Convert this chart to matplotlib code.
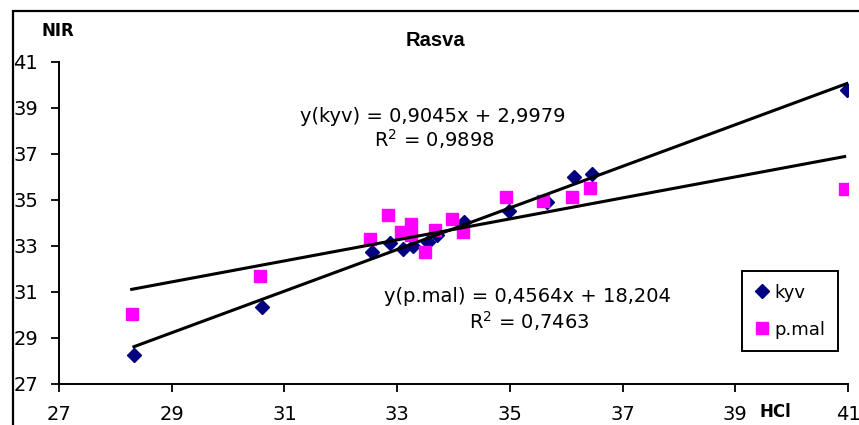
import numpy as np
import matplotlib
matplotlib.use("Agg")
import matplotlib.pyplot as plt
from matplotlib.patches import Rectangle

# values
hcl_kyv = [28.33, 30.61, 32.55, 32.88, 33.11, 33.29, 33.55, 33.71, 34.18, 34.98, 35.66, 36.14, 36.46, 40.98]
nir_kyv = [28.27, 30.33, 32.75, 33.14, 32.86, 33.01, 33.19, 33.48, 34.06, 34.54, 34.93, 36.01, 36.11, 39.78]

hcl_pmal = [28.29, 30.56, 32.51, 32.84, 33.07, 33.25, 33.25, 33.50, 33.68, 33.98, 34.17, 34.94, 35.59, 36.10, 36.43, 40.94]
nir_pmal = [30.03, 31.70, 33.30, 34.35, 33.62, 33.96, 33.48, 32.75, 33.70, 34.17, 33.62, 35.14, 34.96, 35.14, 35.54, 35.46]

# trendline coefficients as printed on the chart
fit_kyv = (0.9045, 2.9979, 0.9898)
fit_pmal = (0.4564, 18.204, 0.7463)

ticks = [27, 29, 31, 33, 35, 37, 39, 41]

FIGSIZE = (8.59, 4.25)
FS = 14

fig = plt.figure(figsize=FIGSIZE, dpi=100)
ax = fig.add_axes([59 / 859, 1 - 384 / 425, (848 - 59) / 859, (384 - 62) / 425])

# outer chart frame, cut off on the right and bottom like the original
fig.patches.append(Rectangle((13 / 859, -0.1), 1.2, 1 - 11 / 425 + 0.1, transform=fig.transFigure,
                             fill=False, edgecolor="black", linewidth=1.6, zorder=0))

ax.plot(hcl_kyv, nir_kyv, linestyle="none", marker="D", markersize=7.2, color="#000080", label="kyv", zorder=3)
ax.plot(hcl_pmal, nir_pmal, linestyle="none", marker="s", markersize=8, color="#FF00FF", label="p.mal", zorder=4)

for xs, (k, b, r2) in [(hcl_kyv, fit_kyv), (hcl_pmal, fit_pmal)]:
    xx = np.array([min(xs), max(xs)])
    ax.plot(xx, k * xx + b, color="black", linewidth=2.2, zorder=5)

ax.set_xlim(27, 41)
ax.set_ylim(27, 41)
ax.set_xticks(ticks)
ax.set_yticks(ticks)
ax.tick_params(direction="out", length=6, width=1.3, labelsize=FS, pad=9)
for side in ["top", "right"]:
    ax.spines[side].set_visible(False)
for side in ["left", "bottom"]:
    ax.spines[side].set_linewidth(1.4)

def fmt(v, n):
    return f"{v:.{n}f}".replace(".", ",")

ax.text(33.64, 38.40, f"y(kyv) = {fmt(fit_kyv[0], 4)}x + {fmt(fit_kyv[1], 4)}", fontsize=FS,
        ha="center", va="baseline")
ax.text(33.66, 37.32, f"R$^2$ = {fmt(fit_kyv[2], 4)}", fontsize=FS, ha="center", va="baseline")
ax.text(35.32, 30.57, f"y(p.mal) = {fmt(fit_pmal[0], 4)}x + {fmt(fit_pmal[1], 3)}", fontsize=FS,
        ha="center", va="baseline")
ax.text(35.35, 29.40, f"R$^2$ = {fmt(fit_pmal[2], 4)}", fontsize=FS, ha="center", va="baseline")

fig.text(435 / 859, 1 - 41 / 425, "Rasva", fontsize=14.5, fontweight="bold",
         family="Liberation Sans", ha="center", va="center")
fig.text(58 / 859, 1 - 31 / 425, "NIR", fontsize=12, fontweight="bold", ha="center", va="center")
fig.text(775 / 859, 1 - 412 / 425, "HCl", fontsize=12, fontweight="bold", ha="center", va="center")

leg = ax.legend(loc="upper left", bbox_to_anchor=(742 / 859, 1 - 271 / 425), bbox_transform=fig.transFigure,
                fontsize=13, numpoints=1, fancybox=False, framealpha=1, edgecolor="black",
                borderpad=0.7, labelspacing=1.05, handlelength=0.8, handletextpad=0.3, borderaxespad=0)
leg.get_frame().set_linewidth(1.4)

fig.savefig("out.png", dpi=100)
